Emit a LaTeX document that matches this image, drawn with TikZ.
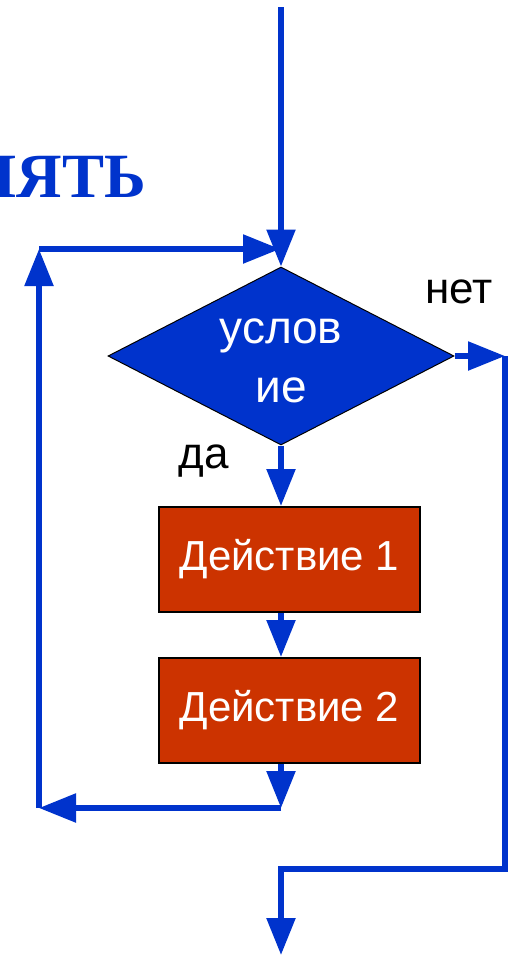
\documentclass[tikz,border=0pt]{standalone}
\usepackage{fontspec}
\setmainfont{Liberation Sans}
\newfontfamily\titlefont{Liberation Serif}
\usetikzlibrary{shapes.geometric,arrows.meta}
\definecolor{flowblue}{RGB}{0,51,204}
\definecolor{actred}{RGB}{204,51,0}
\begin{document}
\begin{tikzpicture}[x=1pt,y=-1pt,
  flow/.style={draw=flowblue, line width=5.5pt},
  arr/.style={flow, -{Triangle[length=37pt,width=28pt]}},
  cond/.style={diamond, fill=flowblue, draw=black, line width=1pt, minimum width=346pt, minimum height=178pt, inner sep=0pt, aspect=1.94},
  condtext/.style={text=white, align=center, inner sep=0pt, font=\fontsize{46}{59}\selectfont},
  act/.style={rectangle, fill=actred, draw=black, line width=2pt, minimum width=261pt, minimum height=105pt, text=white, font=\fontsize{42}{50}\selectfont},
  lbl/.style={font=\fontsize{44}{53}\selectfont, anchor=base, inner sep=0pt}]
\useasboundingbox (0,0) rectangle (508,956);
\clip (0,0) rectangle (508,956);
\node (title) [anchor=base east, inner sep=0pt, text=flowblue, font=\titlefont\bfseries\fontsize{63}{70}\selectfont] at (146,197) {ВЫПОЛНЯТЬ};
\node (cond) [cond] at (281,356) {};
\node (condtxt) [condtext] at (281,361) {услов\\ие};
\node (act1) [act] at (289.5,559.5) {Действие 1};
\node (act2) [act] at (289.5,710.5) {Действие 2};
\node (yes) [lbl] at (204,468) {да};
\node (no) [lbl] at (459,303) {нет};
\coordinate (start) at (281,7);
\coordinate (loopBR) at (281,808);
\coordinate (loopBL) at (39,808);
\coordinate (loopTL) at (39,249);
\coordinate (loopTR) at (280,249);
\coordinate (exitR) at (505,356);
\coordinate (exitBR) at (505,869);
\coordinate (exitBL) at (281,869);
\coordinate (end) at (281,955);
\draw[arr] (act2.south -| cond.south) -- (loopBR);
\draw[arr] (loopBR) -- (loopBL);
\draw[arr] (loopBL) -- (loopTL);
\draw[arr] (loopTL) -- (loopTR);
\draw[arr] (start) -- (cond.north);
\draw[arr] (cond.south) -- (cond.south |- act1.north);
\draw[arr] (act1.south -| cond.south) -- (act2.north -| cond.south);
\draw[arr] (cond.east) -- (exitR);
\draw[arr, line join=miter] (exitR) -- (exitBR) -- (exitBL) -- (end);
\end{tikzpicture}
\end{document}
